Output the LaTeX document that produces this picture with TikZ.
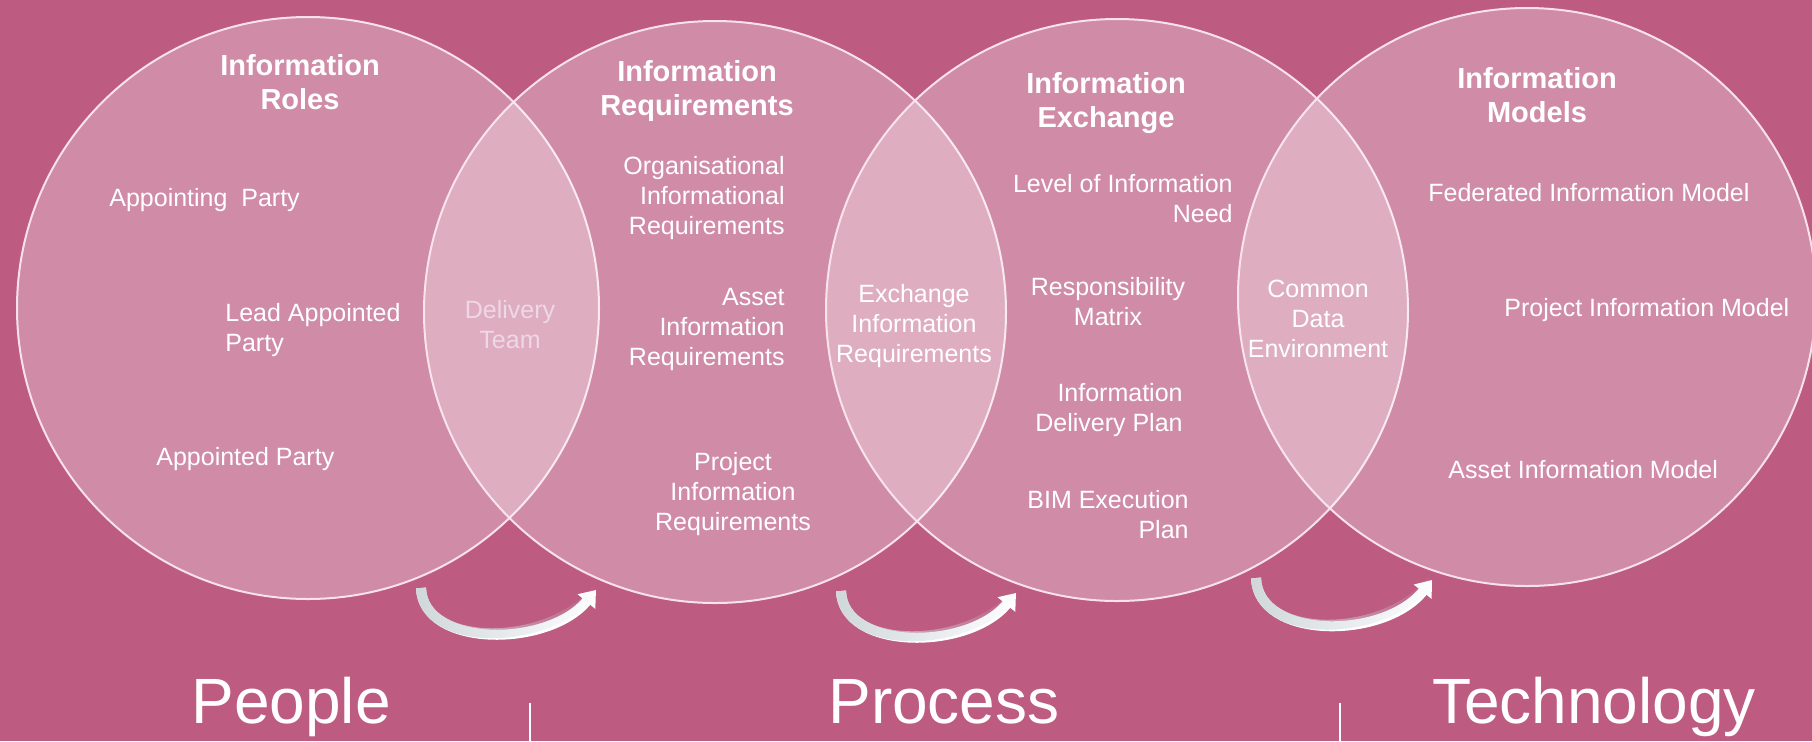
\documentclass[tikz,border=0pt]{standalone}
\usepackage{fontspec}
\setmainfont{Liberation Sans}
\usetikzlibrary{arrows.meta,fadings}
\definecolor{bgpink}{RGB}{189,91,128}
\definecolor{arrgray}{RGB}{208,216,220}
\definecolor{dimtxt}{RGB}{238,216,228}
\definecolor{rimcol}{RGB}{250,232,240}
\tikzfading[name=fadeR, left color=transparent!0, right color=transparent!100]
\begin{document}
\begin{tikzpicture}[x=0.5pt,y=-0.5pt,
  venn/.style={circle, draw=rimcol, line width=1pt, fill=white, fill opacity=0.3, draw opacity=0.95, inner sep=0pt, minimum size=#1},
  ttl/.style={text=white, font=\bfseries\fontsize{14.5}{17}\selectfont, align=center, inner sep=0pt},
  itm/.style={text=white, font=\fontsize{12.5}{15}\selectfont, inner sep=0pt},
  lens/.style={itm, text=dimtxt, align=center},
  big/.style={text=white, font=\fontsize{32}{38}\selectfont, inner sep=0pt, anchor=base},
  sepline/.style={draw=white, line width=0.7pt},
  arrw/.style={draw=white, line width=5pt, -{Triangle[width=11pt,length=7.5pt]}},
  arrov/.style={draw=arrgray, line width=5pt, path fading=fadeR}
]
\useasboundingbox (0,0) rectangle (1812,741);
\fill[bgpink] (0,0) rectangle (1812,741);

% circles
\node[venn=291pt] (c1) at (308,308) {};
\node[venn=291pt] (c2) at (715,312) {};
\node[venn=291pt] (c3) at (1117,310) {};
\node[venn=289pt] (c4) at (1527,297) {};

% titles (anchor = baseline of last line)
\node[ttl, anchor=base] (t1) at (300,109) {Information\\Roles};
\node[ttl, anchor=base] (t2) at (697,115) {Information\\Requirements};
\node[ttl, anchor=base] (t3) at (1106,127) {Information\\Exchange};
\node[ttl, anchor=base] (t4) at (1537,122) {Information\\Models};

% circle 1
\node[itm, anchor=base west] (ap) at (109,206) {Appointing\ \ Party};
\node[itm, anchor=base west, align=left] (lap) at (225,351) {Lead Appointed\\Party};
\node[itm, anchor=base west] (app) at (156,465) {Appointed Party};
\node[lens, anchor=base] (dt) at (510,348) {Delivery\\Team};

% circle 2
\node[itm, anchor=base east, align=right] (oir) at (785,234) {Organisational\\Informational\\Requirements};
\node[itm, anchor=base east, align=right] (air) at (785,365) {Asset\\Information\\Requirements};
\node[itm, anchor=base, align=center] (pir) at (733,530) {Project\\Information\\Requirements};
\node[itm, anchor=base, align=center] (eir) at (914,362) {Exchange\\Information\\Requirements};

% circle 3
\node[itm, anchor=base east, align=right] (loin) at (1233,222) {Level of Information\\Need};
\node[itm, anchor=base, align=center] (rm) at (1108,325) {Responsibility\\Matrix};
\node[itm, anchor=base east, align=right] (idp) at (1183,431) {Information\\Delivery Plan};
\node[itm, anchor=base east, align=right] (bep) at (1189,538) {BIM Execution\\Plan};
\node[itm, anchor=base, align=center] (cde) at (1318,357) {Common\\Data\\Environment};

% circle 4
\node[itm, anchor=base west] (fim) at (1428,201) {Federated Information Model};
\node[itm, anchor=base west] (pim) at (1504,316) {Project Information Model};
\node[itm, anchor=base west] (aim) at (1448,478) {Asset Information Model};

% curved arrows
\coordinate (a1s) at (421,588); \coordinate (a1e) at (596,590);
\coordinate (a2s) at (841,591); \coordinate (a2e) at (1016,593);
\coordinate (a3s) at (1256,578); \coordinate (a3e) at (1432,580);
\draw[arrw] (a1s) .. controls +(2,60) and +(-48,58) .. (a1e);
\draw[arrov] (a1s) .. controls +(2,60) and +(-48,58) .. (a1e);
\draw[arrw] (a2s) .. controls +(2,60) and +(-48,58) .. (a2e);
\draw[arrov] (a2s) .. controls +(2,60) and +(-48,58) .. (a2e);
\draw[arrw] (a3s) .. controls +(2,62) and +(-48,60) .. (a3e);
\draw[arrov] (a3s) .. controls +(2,62) and +(-48,60) .. (a3e);

% bottom labels
\node[big] (people) at (291,723) {People};
\node[big] (process) at (944,723) {Process};
\node[big] (tech) at (1594,723) {Technology};

\coordinate (v1a) at (530,703); \coordinate (v1b) at (530,741);
\coordinate (v2a) at (1340,703); \coordinate (v2b) at (1340,741);
\draw[sepline] (v1a) -- (v1b);
\draw[sepline] (v2a) -- (v2b);
\end{tikzpicture}
\end{document}
